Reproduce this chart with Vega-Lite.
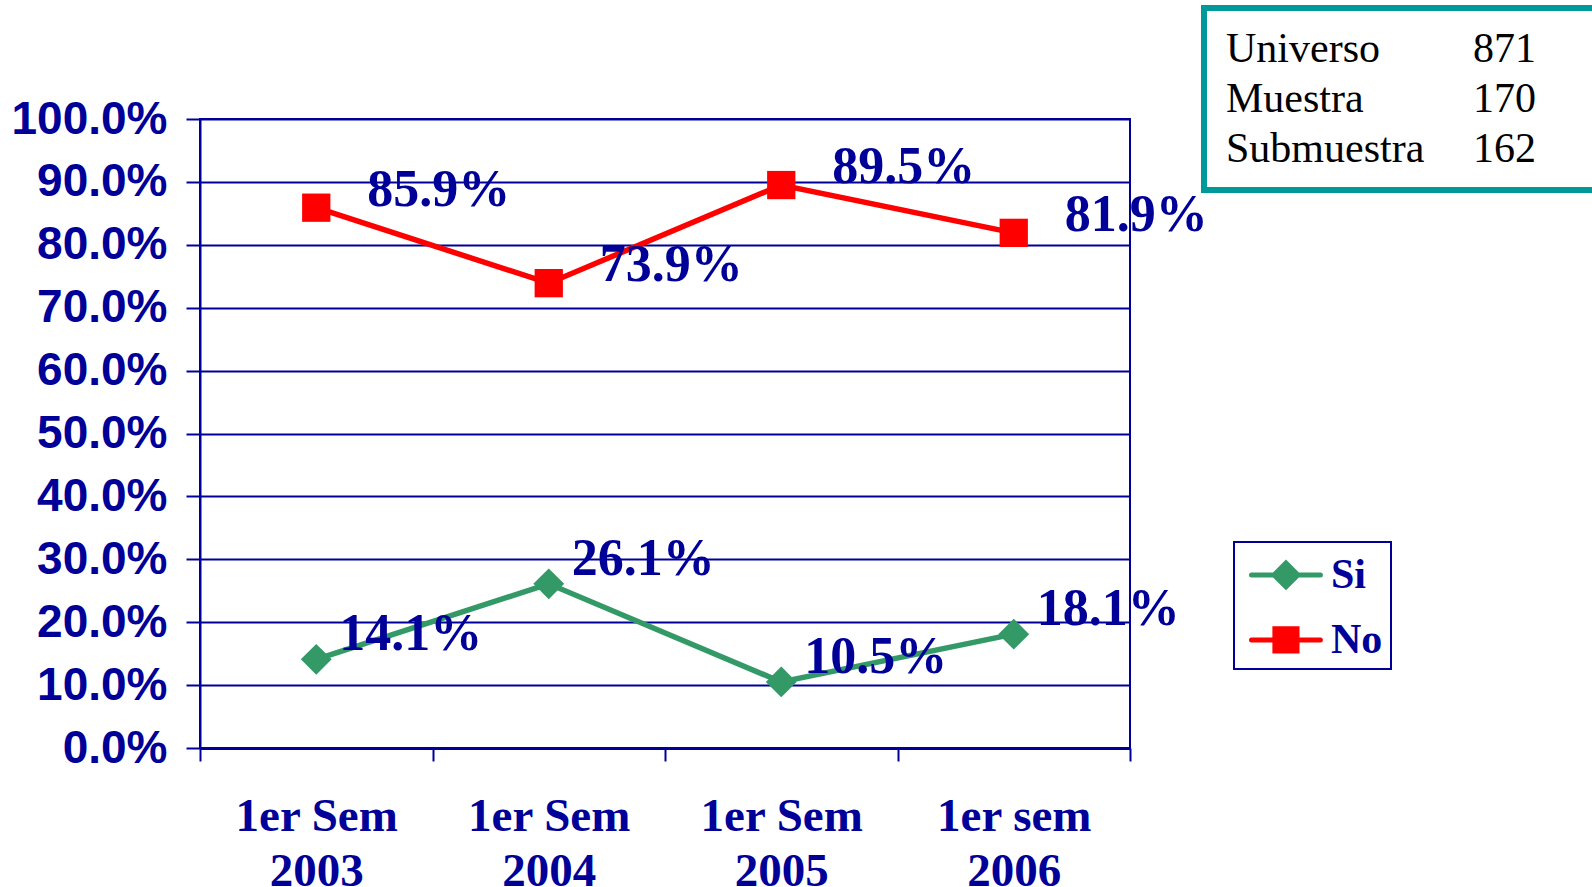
{
  "$schema": "https://vega.github.io/schema/vega-lite/v6.json",
  "width": 930,
  "height": 629,
  "autosize": {"type": "none"},
  "padding": {"left": 200, "top": 119, "right": 462, "bottom": 139},
  "background": "white",
  "datasets": {
    "series": [
      {"periodo": "1er Sem 2003", "serie": "Si", "valor": 0.141},
      {"periodo": "1er Sem 2004", "serie": "Si", "valor": 0.261},
      {"periodo": "1er Sem 2005", "serie": "Si", "valor": 0.105},
      {"periodo": "1er sem 2006", "serie": "Si", "valor": 0.181},
      {"periodo": "1er Sem 2003", "serie": "No", "valor": 0.859},
      {"periodo": "1er Sem 2004", "serie": "No", "valor": 0.739},
      {"periodo": "1er Sem 2005", "serie": "No", "valor": 0.895},
      {"periodo": "1er sem 2006", "serie": "No", "valor": 0.819}
    ],
    "info": [
      {"concepto": "Universo", "n": 871},
      {"concepto": "Muestra", "n": 170},
      {"concepto": "Submuestra", "n": 162}
    ]
  },
  "encoding": {
    "x": {
      "field": "periodo",
      "type": "nominal",
      "sort": null,
      "scale": {"type": "band", "paddingInner": 0, "paddingOuter": 0},
      "axis": {
        "title": null,
        "labelAngle": 0,
        "tickBand": "extent",
        "grid": false,
        "tickSize": 13,
        "tickWidth": 2,
        "tickColor": "#000099",
        "domainColor": "#000099",
        "domainWidth": 3,
        "labelFont": "Liberation Serif",
        "labelFontWeight": "bold",
        "labelFontSize": 47,
        "labelColor": "#000099",
        "labelPadding": 32,
        "labelLineHeight": 55,
        "labelBaseline": "top",
        "labelExpr": "[slice(datum.label, 0, 7), slice(datum.label, 8)]"
      }
    },
    "y": {
      "field": "valor",
      "type": "quantitative",
      "scale": {"domain": [0, 1], "nice": false, "zero": true},
      "axis": {
        "title": null,
        "values": [0, 0.1, 0.2, 0.3, 0.4, 0.5, 0.6, 0.7, 0.8, 0.9, 1.0],
        "format": ".1%",
        "grid": true,
        "gridColor": "#000099",
        "gridWidth": 2,
        "gridOpacity": 1,
        "tickSize": 14,
        "tickWidth": 2,
        "tickColor": "#000099",
        "domainColor": "#000099",
        "domainWidth": 2,
        "labelFont": "Liberation Sans",
        "labelFontWeight": "bold",
        "labelFontSize": 46,
        "labelColor": "#000099",
        "labelPadding": 19
      }
    }
  },
  "layer": [
    {
      "data": {"name": "series"},
      "mark": {"type": "line", "strokeWidth": 5.5},
      "encoding": {
        "color": {
          "field": "serie",
          "type": "nominal",
          "scale": {"domain": ["Si", "No"], "range": ["#339966", "#FF0000"]},
          "legend": {
            "title": null,
            "orient": "none",
            "legendX": 1034,
            "legendY": 423,
            "strokeColor": "#000099",
            "padding": 8,
            "rowPadding": 18,
            "labelFont": "Liberation Serif",
            "labelFontWeight": "bold",
            "labelFontSize": 42,
            "labelColor": "#000099",
            "labelOffset": 47,
            "symbolSize": 784,
            "encode": {
              "legend": {"update": {"strokeWidth": {"value": 2}}},
              "labels": {"update": {"dy": {"value": 4}}},
              "symbols": {
                "update": {
                  "shape": {"signal": "datum.value === 'Si' ? 'M-0.82,0.28H4.1M1.64,-0.57L2.49,0.28L1.64,1.13L0.79,0.28Z' : 'M-0.82,0.28H4.1M0.85,-0.51H2.43V1.07H0.85Z'"},
                  "fill": {"signal": "datum.value === 'Si' ? '#339966' : '#FF0000'"},
                  "stroke": {"signal": "datum.value === 'Si' ? '#339966' : '#FF0000'"},
                  "strokeWidth": {"value": 5},
                  "strokeCap": {"value": "round"},
                  "size": {"value": 784},
                  "opacity": {"value": 1},
                  "fillOpacity": {"value": 1},
                  "strokeOpacity": {"value": 1}
                }
              }
            }
          }
        }
      }
    },
    {
      "data": {"name": "series"},
      "mark": {"type": "point", "filled": true, "opacity": 1},
      "encoding": {
        "color": {"field": "serie", "type": "nominal"},
        "shape": {"condition": {"test": "datum.serie === 'Si'", "value": "diamond"}, "value": "square"},
        "size": {"condition": {"test": "datum.serie === 'Si'", "value": 950}, "value": 800}
      }
    },
    {
      "data": {"name": "series"},
      "transform": [{"filter": "datum.serie === 'No'"}],
      "mark": {"type": "text", "align": "left", "baseline": "alphabetic", "dx": 51, "dy": -2, "font": "Liberation Serif", "fontWeight": "bold", "fontSize": 52, "color": "#000099"},
      "encoding": {"text": {"field": "valor", "type": "quantitative", "format": ".1%"}}
    },
    {
      "data": {"name": "series"},
      "transform": [{"filter": "datum.serie === 'Si'"}],
      "mark": {"type": "text", "align": "left", "baseline": "alphabetic", "dx": 23, "dy": -9, "font": "Liberation Serif", "fontWeight": "bold", "fontSize": 52, "color": "#000099"},
      "encoding": {"text": {"field": "valor", "type": "quantitative", "format": ".1%"}}
    },
    {
      "data": {"name": "info"},
      "transform": [{"fold": ["concepto", "n"], "as": ["clave", "celda"]}],
      "mark": {"type": "point", "opacity": 0},
      "encoding": {
        "x": {"value": 0},
        "y": {"value": 0},
        "shape": {
          "field": "celda",
          "type": "nominal",
          "scale": {"domain": ["Universo", "Muestra", "Submuestra", 871, 170, 162], "range": ["circle"]},
          "legend": {
            "title": " ",
            "titleOrient": "right",
            "titlePadding": 70,
            "titleFontSize": 10,
            "orient": "none",
            "legendX": 1004,
            "legendY": -111,
            "columns": 2,
            "gridAlign": "all",
            "columnPadding": 46,
            "rowPadding": 8,
            "padding": 20,
            "strokeColor": "#009999",
            "symbolSize": 1,
            "symbolOpacity": 0,
            "symbolStrokeWidth": 0,
            "labelOffset": -40,
            "labelLimit": 0,
            "labelFont": "Liberation Serif",
            "labelFontSize": 42,
            "labelColor": "#000000",
            "encode": {"legend": {"update": {"strokeWidth": {"value": 6}}}}
          }
        }
      }
    }
  ],
  "config": {
    "view": {"stroke": "#000099", "strokeWidth": 2},
    "legend": {"strokeWidth": 6}
  }
}
